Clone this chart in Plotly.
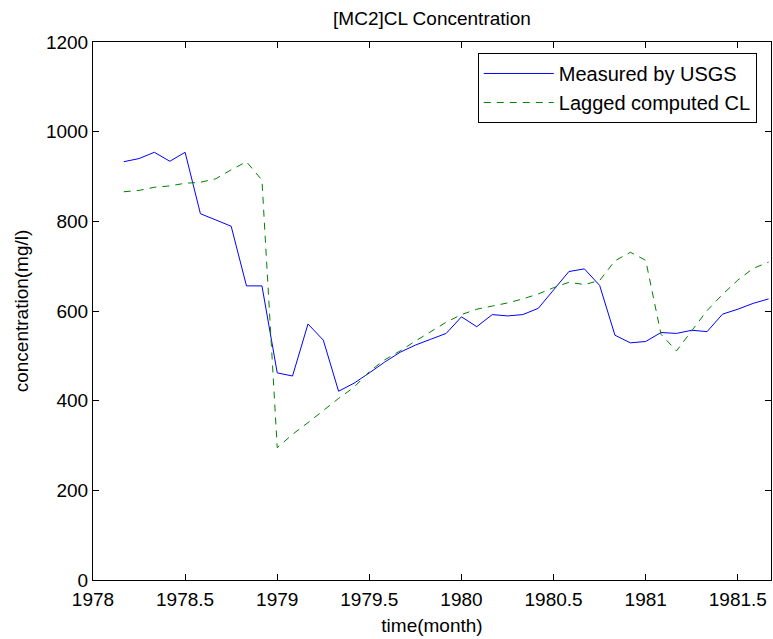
import plotly.graph_objects as go

# monthly time stamps (decimal years)
time = [1978.167, 1978.250, 1978.333, 1978.417, 1978.500, 1978.583, 1978.667, 1978.750,
        1978.833, 1978.917, 1979.000, 1979.083, 1979.167, 1979.250, 1979.333, 1979.417,
        1979.500, 1979.583, 1979.667, 1979.750, 1979.833, 1979.917, 1980.000, 1980.083,
        1980.167, 1980.250, 1980.333, 1980.417, 1980.500, 1980.583, 1980.667, 1980.750,
        1980.833, 1980.917, 1981.000, 1981.083, 1981.167, 1981.250, 1981.333, 1981.417,
        1981.500, 1981.583, 1981.667]

measured = [933, 940, 954, 934, 954, 817, 803, 789, 656, 656, 462, 455, 571, 535, 421, 439,
            462, 486, 508, 524, 537, 550, 587, 565, 592, 589, 592, 606, 647, 688, 694, 657,
            546, 529, 532, 552, 550, 557, 554, 593, 604, 617, 627]

lagged = [866, 869, 876, 879, 885, 887, 895, 915, 933, 892, 295, 325, 351, 378, 405, 430,
          465, 491, 511, 533, 553, 575, 592, 604, 611, 618, 627, 638, 652, 664, 659, 668,
          712, 731, 713, 548, 511, 556, 601, 637, 669, 695, 709]

x_ticks = [1978, 1978.5, 1979, 1979.5, 1980, 1980.5, 1981, 1981.5]
x_tick_labels = ["1978", "1978.5", "1979", "1979.5", "1980", "1980.5", "1981", "1981.5"]
y_ticks = [0, 200, 400, 600, 800, 1000, 1200]
y_tick_labels = ["0", "200", "400", "600", "800", "1000", "1200"]

FONT = "Liberation Sans, Arial, sans-serif"

fig = go.Figure()
fig.add_trace(go.Scatter(x=time, y=measured, mode="lines", name="Measured by USGS",
                         line=dict(color="rgb(0,0,255)", width=1)))
fig.add_trace(go.Scatter(x=time, y=lagged, mode="lines", name="Lagged computed CL",
                         line=dict(color="rgb(0,128,0)", width=1, dash="7px,6px")))

axis_common = dict(showline=True, linecolor="black", linewidth=1, mirror="ticks",
                   ticks="inside", ticklen=6, tickcolor="black", showgrid=False,
                   zeroline=False, tickfont=dict(family=FONT, size=19, color="black"))

fig.update_layout(
    width=773, height=639,
    margin=dict(l=93, r=2, t=42, b=59),
    paper_bgcolor="white", plot_bgcolor="white",
    font=dict(family=FONT, color="black"),
    title=dict(text="[MC2]CL Concentration", x=0.5, xref="paper", y=1 - 18 / 639,
               yref="container", yanchor="middle",
               font=dict(family=FONT, size=19, color="black")),
    xaxis=dict(range=[1978, 1981.68], tickvals=x_ticks, ticktext=x_tick_labels,
               ticklabelstandoff=2,
               title=dict(text="time(month)", font=dict(family=FONT, size=19), standoff=9),
               **axis_common),
    yaxis=dict(range=[0, 1200], tickvals=y_ticks, ticktext=y_tick_labels,
               title=dict(text="concentration(mg/l)", font=dict(family=FONT, size=19), standoff=12),
               **axis_common),
    legend=dict(x=0.979, y=0.9796, xanchor="right", yanchor="top",
                bordercolor="black", borderwidth=1, bgcolor="white",
                font=dict(family=FONT, size=20, color="black"), itemwidth=70),
    showlegend=True,
)

fig.write_html("out.html")
